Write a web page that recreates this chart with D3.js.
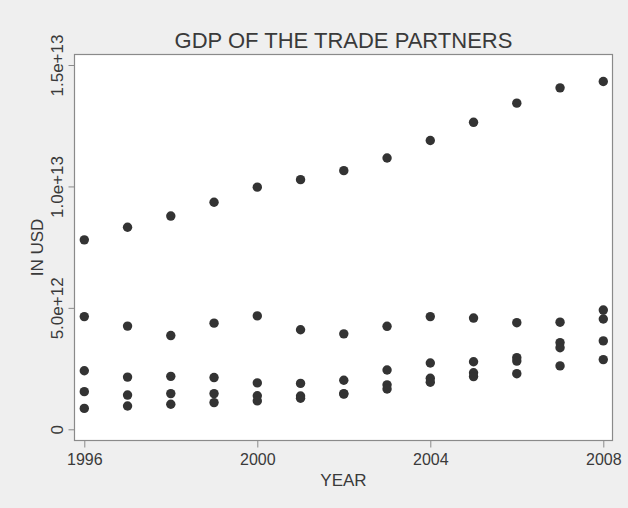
<!DOCTYPE html>
<html>
<head>
<meta charset="utf-8">
<script src="https://cdn.jsdelivr.net/npm/d3@7"></script>
<style>
  html, body { margin: 0; padding: 0; background: #efefef; }
  svg { display: block; }
  text { font-family: "Liberation Sans", Arial, sans-serif; fill: #3a3a3a; }
</style>
</head>
<body>
<svg id="chart" width="628" height="508"></svg>
<script>
const years = [1996, 1997, 1998, 1999, 2000, 2001, 2002, 2003, 2004, 2005, 2006, 2007, 2008];
// GDP values in units of 1e12 USD
const seriesA = [7.80, 8.32, 8.78, 9.35, 9.97, 10.28, 10.65, 11.17, 11.89, 12.64, 13.43, 14.06, 14.32];
const seriesB = [4.64, 4.25, 3.86, 4.37, 4.67, 4.10, 3.93, 4.24, 4.64, 4.58, 4.39, 4.41, 4.91];
const seriesC = [2.41, 2.15, 2.18, 2.13, 1.91, 1.89, 2.02, 2.44, 2.73, 2.78, 2.95, 3.57, 3.64];
const seriesD = [1.55, 1.41, 1.47, 1.47, 1.38, 1.37, 1.47, 1.83, 2.10, 2.33, 2.29, 2.61, 2.87];
const seriesE = [0.86, 0.96, 1.03, 1.10, 1.17, 1.28, 1.45, 1.66, 1.94, 2.17, 2.81, 3.36, 4.54];
const xTicks = [1996, 2000, 2004, 2008];
const yTicks = [0, 5e12, 1e13, 1.5e13];
const yTickLabels = ["0", "5.0e+12", "1.0e+13", "1.5e+13"];
const title = "GDP OF THE TRADE PARTNERS";
const xTitle = "YEAR";
const yTitle = "IN USD";

const allSeries = [seriesA, seriesB, seriesC, seriesD, seriesE];
const points = [];
allSeries.forEach(s => s.forEach((v, i) => points.push({ year: years[i], value: v * 1e12 })));

const svg = d3.select("#chart");
const frame = { left: 74.5, right: 612.5, top: 54.5, bottom: 440.5 };

const x = d3.scaleLinear().domain([1996, 2008]).range([84.3, 603.3]);
const y = d3.scaleLinear().domain([0, 1.5e13]).range([429.3, 65]);

// plot area
svg.append("rect")
  .attr("x", frame.left).attr("y", frame.top)
  .attr("width", frame.right - frame.left).attr("height", frame.bottom - frame.top)
  .attr("fill", "#ffffff").attr("stroke", "#8a8a8a").attr("stroke-width", 1.2);

// x axis
const xAxis = svg.append("g")
  .attr("transform", `translate(0,${frame.bottom})`)
  .call(d3.axisBottom(x).tickValues(xTicks).tickFormat(d3.format("d")).tickSize(7).tickPadding(6));
xAxis.select(".domain").remove();
xAxis.selectAll("line").attr("stroke", "#8a8a8a");
xAxis.selectAll("text").attr("font-size", 16).attr("fill", "#3a3a3a")
  .attr("font-family", "Liberation Sans, Arial, sans-serif");

// y axis
const yAxis = svg.append("g")
  .attr("transform", `translate(${frame.left},0)`)
  .call(d3.axisLeft(y).tickValues(yTicks).tickFormat((d, i) => yTickLabels[i]).tickSize(6).tickPadding(6));
yAxis.select(".domain").remove();
yAxis.selectAll("line").attr("stroke", "#8a8a8a");
yAxis.selectAll("text")
  .attr("font-size", 17).attr("fill", "#3a3a3a")
  .attr("font-family", "Liberation Sans, Arial, sans-serif")
  .attr("x", null).attr("dy", null)
  .attr("text-anchor", "middle")
  .attr("transform", "translate(-12,0) rotate(-90)");

// points
svg.append("g").selectAll("circle")
  .data(points)
  .join("circle")
  .attr("cx", d => x(d.year))
  .attr("cy", d => y(d.value))
  .attr("r", 4.7)
  .attr("fill", "#333333");

// titles
svg.append("text")
  .attr("x", (frame.left + frame.right) / 2).attr("y", 48)
  .attr("text-anchor", "middle").attr("font-size", 22)
  .text(title);

svg.append("text")
  .attr("x", (frame.left + frame.right) / 2).attr("y", 486)
  .attr("text-anchor", "middle").attr("font-size", 17)
  .text(xTitle);

svg.append("text")
  .attr("transform", `translate(43,${(frame.top + frame.bottom) / 2}) rotate(-90)`)
  .attr("text-anchor", "middle").attr("font-size", 17)
  .text(yTitle);
</script>
</body>
</html>
